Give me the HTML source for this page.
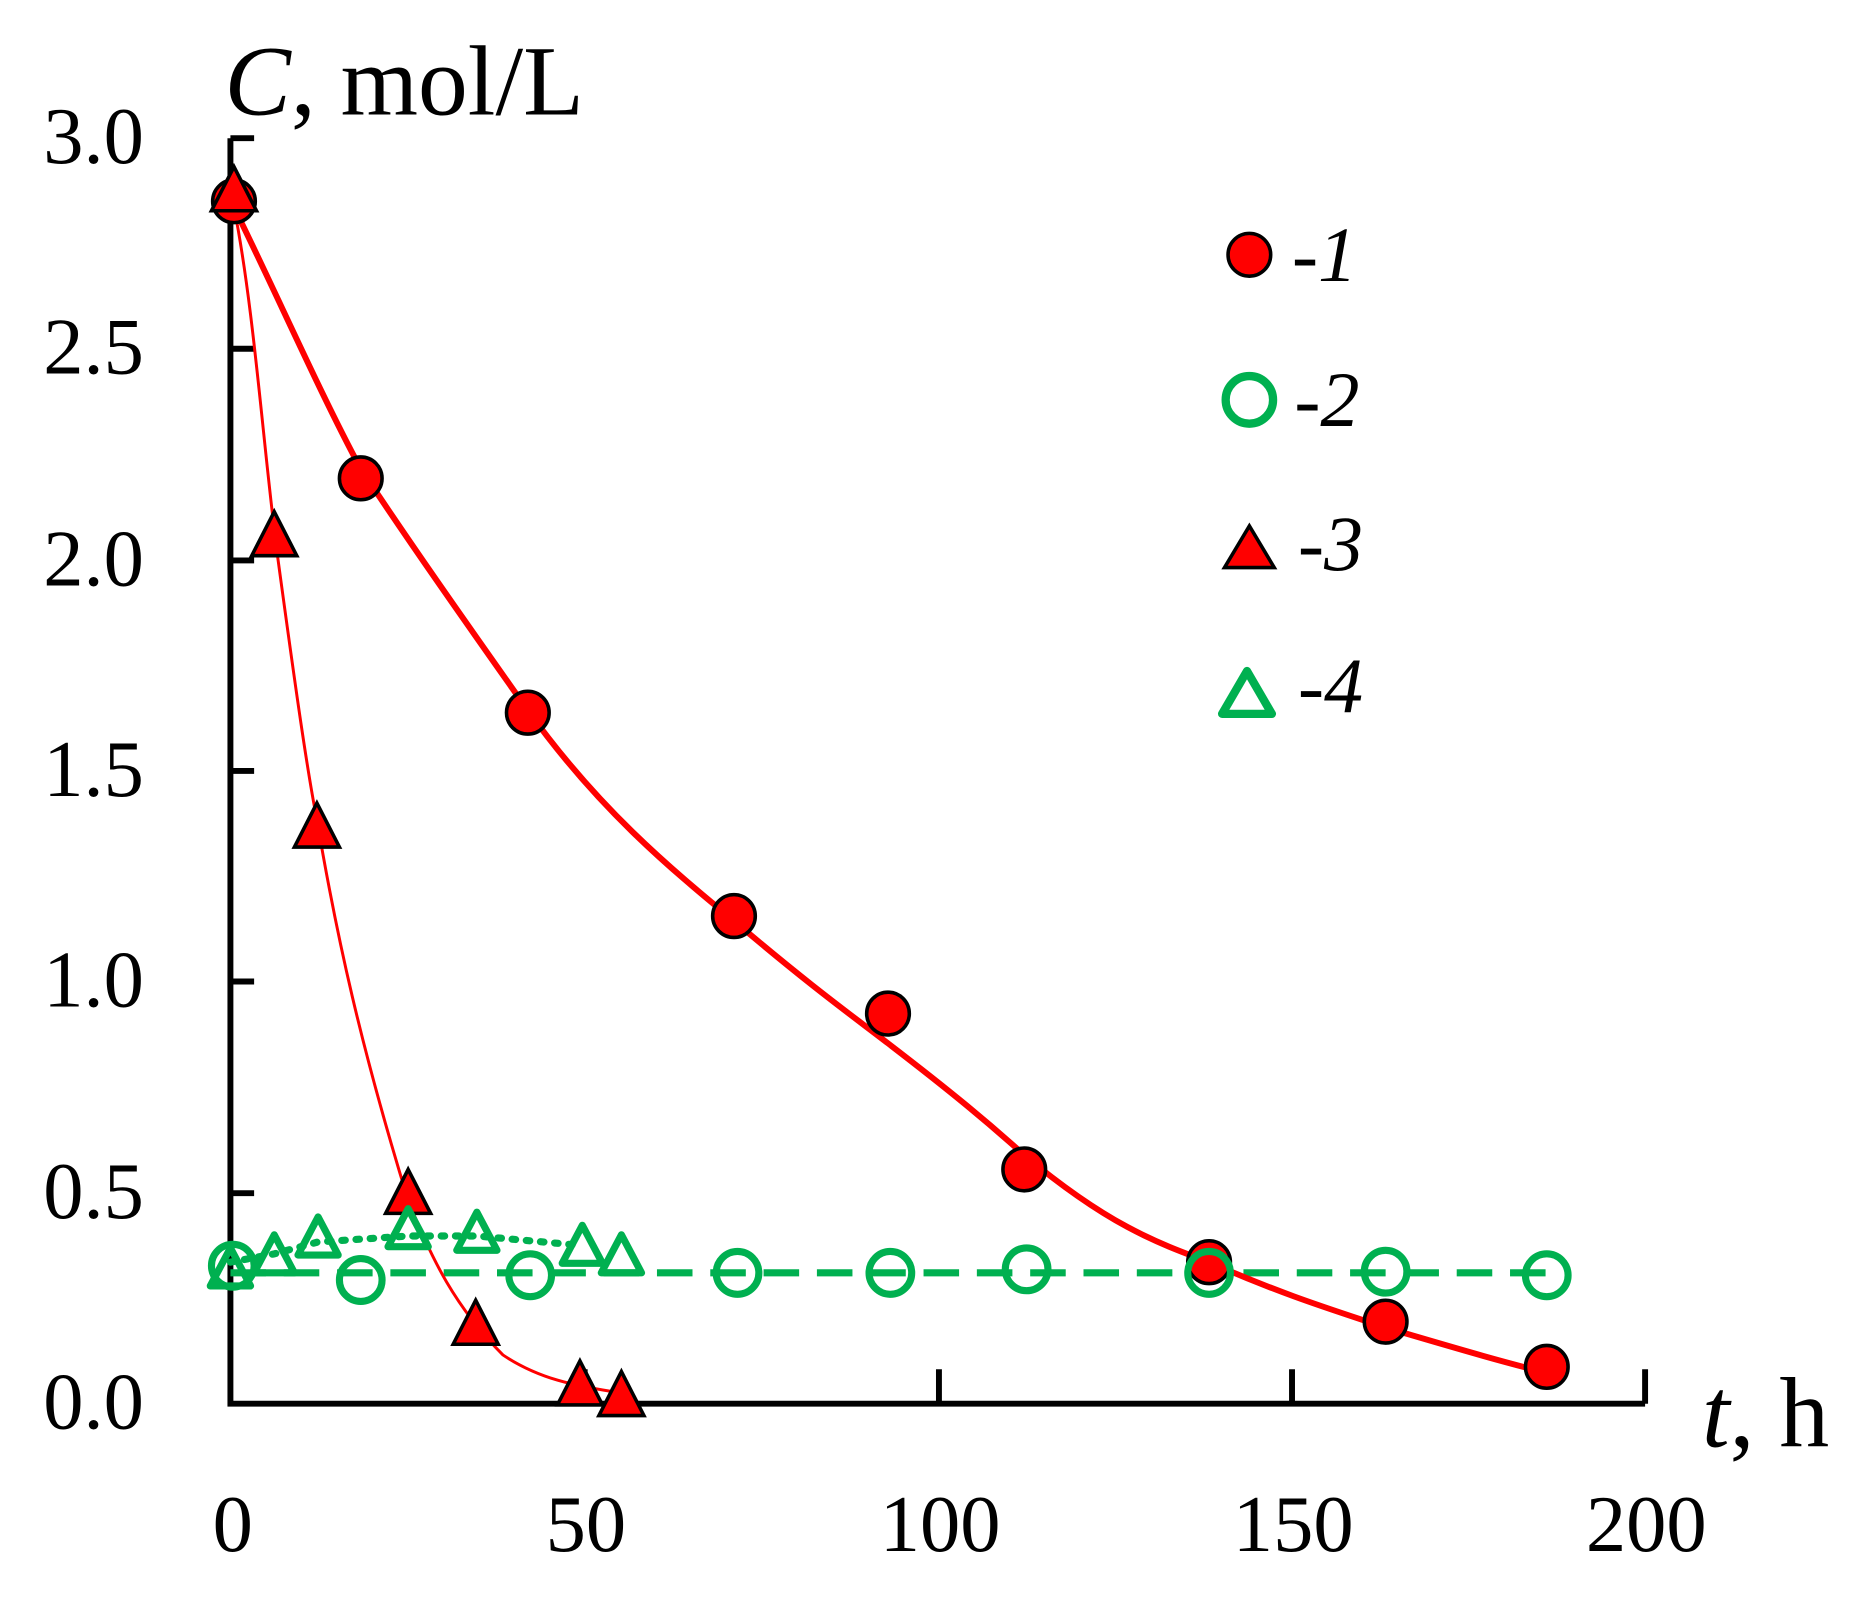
<!DOCTYPE html>
<html><head><style>html,body{margin:0;padding:0;background:#fff}svg{display:block}</style></head>
<body>
<svg width="1864" height="1598" viewBox="0 0 1553 1332" xmlns="http://www.w3.org/2000/svg" font-family="Liberation Serif, serif">
<rect width="1553" height="1332" fill="#fff"/>
<g transform="translate(4.06,-0.8) scale(0.9876,0.9914)">
<!-- axes -->
<g stroke="#000" stroke-width="5" fill="none">
<path d="M190,117 V1181 H1384"/>
<path d="M190,117 H210 M190,294 H210 M190,472 H210 M190,649 H210 M190,826 H210 M190,1004 H210"/>
<path d="M489,1181 V1152 M788,1181 V1152 M1086,1181 V1152 M1384,1181 V1152"/>
</g>
<g font-size="68" fill="#000" text-anchor="end">
<text x="117" y="138">3.0</text><text x="117" y="315">2.5</text><text x="117" y="493">2.0</text>
<text x="117" y="670">1.5</text><text x="117" y="847">1.0</text><text x="117" y="1025">0.5</text><text x="117" y="1202">0.0</text>
</g>
<g font-size="68" fill="#000" text-anchor="middle">
<text x="192" y="1305">0</text><text x="490" y="1305">50</text><text x="789" y="1305">100</text><text x="1087" y="1305">150</text><text x="1385" y="1305">200</text>
</g>
<text x="185" y="97" font-size="84"><tspan font-style="italic">C</tspan>, mol/L</text>
<text x="1432" y="1217" font-size="84"><tspan font-style="italic">t</tspan>, h</text>
<!-- green lines -->
<path d="M190,1071 H1301" stroke="#00b050" stroke-width="6" stroke-dasharray="30,15" fill="none"/>
<path d="M190,1062 L227,1055 L264,1045 L340,1040 L398,1040 L487,1048" stroke="#00b050" stroke-width="6" stroke-dasharray="3,9" stroke-linecap="round" fill="none"/>
<!-- red curves -->
<path d="M193,175 C230,250 265,330 300,395 C350,470 400,540 441,598 C500,680 560,730 615,775 C680,830 715,855 745,878 C800,920 830,945 860,972 C930,1030 970,1045 1016,1062 C1080,1090 1120,1102 1165,1117 C1220,1133 1260,1145 1301,1155" stroke="#f00" stroke-width="5" fill="none"/>
<path d="M193,175 C210,260 218,380 230,470 C245,580 255,650 263,690 C280,790 300,880 340,1010 C360,1060 380,1100 420,1140 C450,1160 480,1166 520,1172" stroke="#f00" stroke-width="2.5" fill="none"/>
<!-- series 1 -->
<g fill="#f00" stroke="#000" stroke-width="3">
<circle cx="193" cy="170" r="18"/><circle cx="300" cy="403" r="18"/><circle cx="441" cy="600" r="18"/>
<circle cx="615" cy="771" r="18"/><circle cx="745" cy="853" r="18"/><circle cx="860" cy="984" r="18"/>
<circle cx="1016" cy="1062" r="18"/><circle cx="1165" cy="1112" r="18"/><circle cx="1301" cy="1150" r="18"/>
</g>
<!-- series 3 -->
<g fill="#f00" stroke="#000" stroke-width="3" stroke-linejoin="miter">
<path d="M193,141 L212,178 L174,178 Z"/><path d="M227,431 L246,468 L208,468 Z"/><path d="M263,676 L282,713 L244,713 Z"/>
<path d="M340,984 L359,1021 L321,1021 Z"/><path d="M397,1094 L416,1131 L378,1131 Z"/><path d="M485,1145 L504,1182 L466,1182 Z"/><path d="M520,1154 L539,1191 L501,1191 Z"/>
</g>
<!-- series 2 -->
<g fill="none" stroke="#00b050" stroke-width="6">
<circle cx="192" cy="1065" r="18"/><circle cx="300" cy="1077" r="18"/><circle cx="443" cy="1073" r="18"/>
<circle cx="618" cy="1071" r="18"/><circle cx="747" cy="1071" r="18"/><circle cx="862" cy="1068" r="18"/>
<circle cx="1016" cy="1071" r="18"/><circle cx="1165" cy="1070" r="18"/><circle cx="1301" cy="1073" r="18"/>
</g>
<!-- series 4 -->
<g fill="none" stroke="#00b050" stroke-width="6" stroke-linejoin="round">
<path d="M190,1050 L207,1082 L173,1082 Z"/><path d="M227,1039 L244,1071 L210,1071 Z"/><path d="M264,1024 L281,1056 L247,1056 Z"/>
<path d="M340,1017 L357,1049 L323,1049 Z"/><path d="M398,1020 L415,1052 L381,1052 Z"/><path d="M487,1031 L504,1063 L470,1063 Z"/><path d="M520,1039 L537,1071 L503,1071 Z"/>
</g>
<!-- legend -->
<circle cx="1050" cy="215" r="18" fill="#f00" stroke="#000" stroke-width="3"/>
<circle cx="1050" cy="337" r="20" fill="none" stroke="#00b050" stroke-width="7"/>
<path d="M1050,443 L1071,478 L1029,478 Z" fill="#f00" stroke="#000" stroke-width="3"/>
<path d="M1048,565 L1069,601 L1027,601 Z" fill="none" stroke="#00b050" stroke-width="7" stroke-linejoin="round"/>
<g font-size="66" font-style="italic" fill="#000">
<text x="1086" y="237">-1</text><text x="1088" y="359">-2</text><text x="1091" y="480">-3</text><text x="1091" y="600">-4</text>
</g>
</g>
</svg>
</body></html>
